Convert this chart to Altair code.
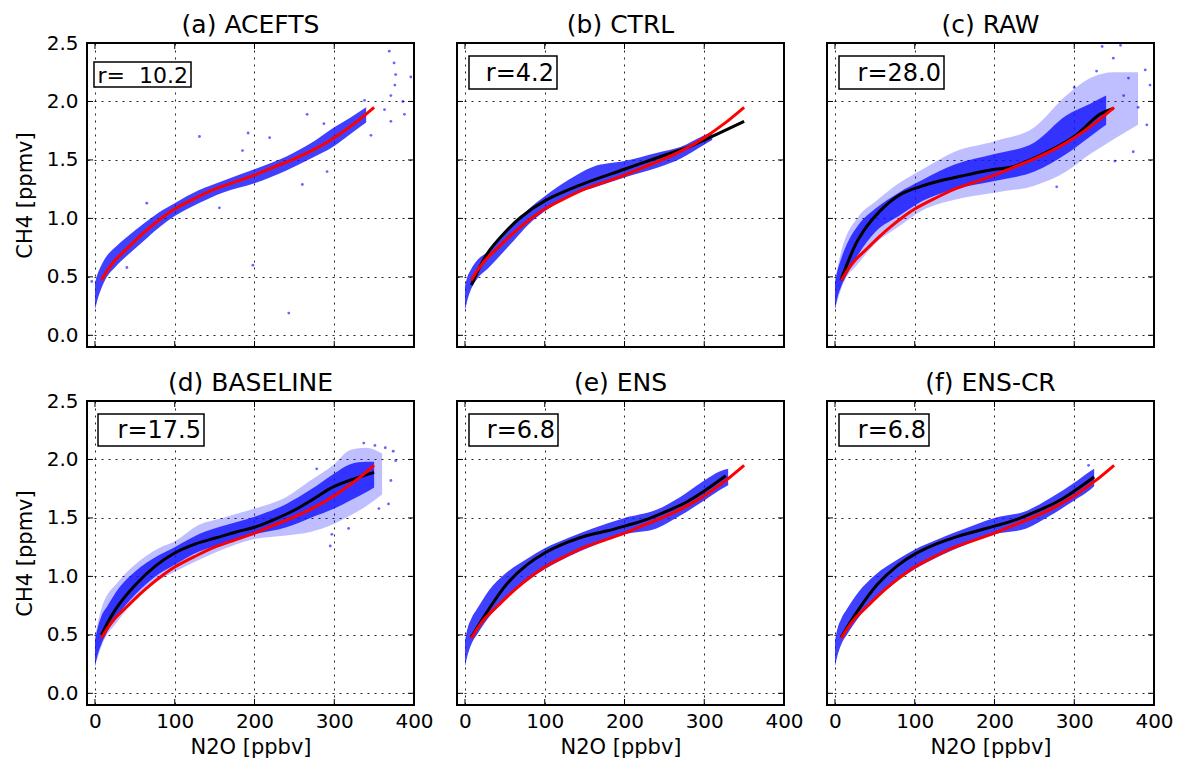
import altair as alt
import pandas as pd

# ---------------- data ----------------
panel_titles = ["(a) ACEFTS", "(b) CTRL", "(c) RAW", "(d) BASELINE", "(e) ENS", "(f) ENS-CR"]
r_labels = ["r=\u00a0\u00a010.2", "r=4.2", "r=28.0", "r=17.5", "r=6.8", "r=6.8"]

x_ticks = [0, 100, 200, 300, 400]
y_ticks = [0.0, 0.5, 1.0, 1.5, 2.0, 2.5]

# red reference curve (same in every panel)
ref_n2o = [8, 15, 25, 40, 55, 70, 85, 100, 125, 150, 175, 200, 225, 250, 275, 300, 325, 350]
ref_ch4 = [0.47, 0.55, 0.64, 0.74, 0.84, 0.93, 1.01, 1.08, 1.17, 1.25, 1.31, 1.37, 1.44, 1.51, 1.59, 1.69, 1.81, 1.95]

# black fitted curves (panel a has none)
fit_b_n2o = [8, 28, 50, 70, 100, 150, 200, 250, 280, 300, 350]
fit_b_ch4 = [0.43, 0.70, 0.88, 1.01, 1.15, 1.30, 1.42, 1.54, 1.61, 1.67, 1.83]
fit_c_n2o = [7.5, 30, 56, 81, 106, 131, 164, 200, 222, 248, 278, 300, 332, 349]
fit_c_ch4 = [0.47, 0.83, 1.06, 1.20, 1.27, 1.32, 1.37, 1.42, 1.44, 1.51, 1.61, 1.70, 1.89, 1.94]
fit_d_n2o = [8, 25, 51, 76, 100, 127, 152, 177, 200, 226, 251, 276, 300, 350]
fit_d_ch4 = [0.50, 0.71, 0.93, 1.09, 1.20, 1.28, 1.33, 1.38, 1.42, 1.49, 1.57, 1.67, 1.77, 1.89]
fit_e_n2o = [8, 28, 53, 78, 100, 128, 153, 179, 200, 229, 254, 279, 300, 327]
fit_e_ch4 = [0.48, 0.70, 0.94, 1.10, 1.20, 1.29, 1.35, 1.39, 1.43, 1.49, 1.56, 1.64, 1.73, 1.86]
fit_f_n2o = [8, 28, 53, 78, 100, 128, 153, 179, 200, 229, 254, 279, 300, 325]
fit_f_ch4 = [0.48, 0.70, 0.93, 1.09, 1.19, 1.28, 1.34, 1.39, 1.43, 1.49, 1.56, 1.64, 1.73, 1.85]

# dense part of the blue scatter cloud (lower / upper edge)
band_a_n2o = [0, 3, 8, 15, 25, 40, 60, 80, 100, 130, 160, 200, 240, 270, 300, 320, 340]
band_a_lo = [0.22, 0.30, 0.40, 0.50, 0.58, 0.68, 0.80, 0.92, 1.02, 1.13, 1.22, 1.30, 1.41, 1.51, 1.62, 1.72, 1.82]
band_a_hi = [0.45, 0.52, 0.60, 0.68, 0.75, 0.84, 0.95, 1.05, 1.13, 1.24, 1.32, 1.42, 1.53, 1.64, 1.78, 1.86, 1.95]

band_b_n2o = [0, 3, 8, 15, 30, 45, 60, 80, 100, 130, 160, 200, 240, 270, 300, 310]
band_b_lo = [0.21, 0.30, 0.40, 0.48, 0.58, 0.69, 0.80, 0.95, 1.06, 1.19, 1.26, 1.35, 1.43, 1.51, 1.63, 1.67]
band_b_hi = [0.42, 0.50, 0.57, 0.64, 0.72, 0.84, 0.94, 1.08, 1.19, 1.33, 1.44, 1.49, 1.56, 1.61, 1.71, 1.74]

band_c_n2o = [0, 3, 8, 15, 30, 50, 80, 110, 150, 200, 250, 290, 320, 340]
band_c_lo = [0.22, 0.32, 0.42, 0.52, 0.70, 0.88, 1.02, 1.15, 1.25, 1.32, 1.40, 1.55, 1.70, 1.80]
band_c_hi = [0.45, 0.55, 0.66, 0.78, 0.95, 1.08, 1.22, 1.33, 1.46, 1.55, 1.65, 1.88, 1.98, 2.05]

band_d_n2o = [0, 3, 8, 15, 30, 50, 80, 100, 130, 160, 200, 240, 270, 300, 320, 340, 350]
band_d_lo = [0.23, 0.32, 0.42, 0.52, 0.68, 0.84, 1.02, 1.10, 1.21, 1.28, 1.36, 1.42, 1.50, 1.58, 1.65, 1.72, 1.76]
band_d_hi = [0.45, 0.55, 0.66, 0.74, 0.90, 1.04, 1.18, 1.25, 1.36, 1.43, 1.51, 1.62, 1.74, 1.88, 1.96, 1.98, 1.98]

band_e_n2o = [0, 3, 8, 15, 30, 50, 80, 100, 130, 160, 200, 240, 270, 300, 320, 330]
band_e_lo = [0.23, 0.32, 0.42, 0.50, 0.65, 0.80, 0.97, 1.06, 1.17, 1.26, 1.36, 1.41, 1.52, 1.65, 1.74, 1.78]
band_e_hi = [0.45, 0.55, 0.64, 0.72, 0.88, 1.02, 1.16, 1.24, 1.33, 1.41, 1.50, 1.57, 1.68, 1.82, 1.90, 1.92]

band_f_n2o = [0, 3, 8, 15, 30, 50, 80, 100, 130, 160, 200, 240, 270, 300, 320, 325]
band_f_lo = [0.23, 0.32, 0.42, 0.50, 0.65, 0.80, 0.97, 1.06, 1.17, 1.26, 1.36, 1.41, 1.52, 1.65, 1.74, 1.77]
band_f_hi = [0.45, 0.55, 0.64, 0.72, 0.87, 1.01, 1.15, 1.23, 1.32, 1.40, 1.50, 1.56, 1.67, 1.80, 1.90, 1.92]

# sparse haze around the dense cloud (panels c and d)
haze_c_n2o = [0, 8, 30, 50, 80, 110, 150, 200, 250, 290, 320, 350, 380]
haze_c_lo = [0.22, 0.40, 0.62, 0.78, 0.93, 1.07, 1.16, 1.22, 1.28, 1.40, 1.55, 1.68, 1.80]
haze_c_hi = [0.48, 0.72, 1.02, 1.14, 1.30, 1.42, 1.57, 1.66, 1.78, 2.05, 2.20, 2.25, 2.25]

haze_d_n2o = [0, 8, 30, 50, 80, 100, 130, 160, 200, 240, 270, 300, 320, 340, 360]
haze_d_lo = [0.23, 0.40, 0.63, 0.80, 0.97, 1.04, 1.14, 1.23, 1.32, 1.35, 1.38, 1.45, 1.52, 1.60, 1.70]
haze_d_hi = [0.48, 0.72, 0.96, 1.10, 1.24, 1.30, 1.44, 1.50, 1.58, 1.68, 1.82, 1.96, 2.08, 2.10, 2.05]

# isolated scatter points
out_a_n2o = [369, 375, 377, 396, 376, 371, 386, 388, 371, 338, 266, 192, 131, 185, 219, 287, 291, 260, 156, 65, 198, 243, 40, -4, 363, 346]
out_a_ch4 = [2.43, 2.33, 2.23, 2.21, 2.14, 2.05, 2.00, 1.89, 1.83, 2.01, 1.89, 1.73, 1.70, 1.58, 1.69, 1.81, 1.40, 1.29, 1.09, 1.13, 0.60, 0.19, 0.58, 0.46, 1.93, 1.71]
out_b_n2o = []
out_b_ch4 = []
out_c_n2o = [335, 349, 358, 389, 395, 391, 374, 351, 278, 328, 362, 380, 300, 368]
out_c_ch4 = [2.47, 2.37, 2.48, 2.27, 2.14, 1.80, 1.57, 1.49, 1.27, 2.26, 2.05, 1.95, 2.12, 2.20]
out_d_n2o = [337, 351, 364, 374, 377, 371, 368, 356, 318, 295, 297, 278]
out_d_ch4 = [2.14, 2.12, 2.10, 2.07, 1.99, 1.82, 1.62, 1.58, 1.41, 1.26, 1.36, 1.92]
out_e_n2o = []
out_e_ch4 = []
out_f_n2o = [318]
out_f_ch4 = [1.95]

fits = [None, (fit_b_n2o, fit_b_ch4), (fit_c_n2o, fit_c_ch4), (fit_d_n2o, fit_d_ch4),
        (fit_e_n2o, fit_e_ch4), (fit_f_n2o, fit_f_ch4)]
bands = [(band_a_n2o, band_a_lo, band_a_hi), (band_b_n2o, band_b_lo, band_b_hi),
         (band_c_n2o, band_c_lo, band_c_hi), (band_d_n2o, band_d_lo, band_d_hi),
         (band_e_n2o, band_e_lo, band_e_hi), (band_f_n2o, band_f_lo, band_f_hi)]
hazes = [None, None, (haze_c_n2o, haze_c_lo, haze_c_hi), (haze_d_n2o, haze_d_lo, haze_d_hi), None, None]
outs = [(out_a_n2o, out_a_ch4), (out_b_n2o, out_b_ch4), (out_c_n2o, out_c_ch4),
        (out_d_n2o, out_d_ch4), (out_e_n2o, out_e_ch4), (out_f_n2o, out_f_ch4)]

# ---------------- layout / style ----------------
W, H = 327, 304
FONT = "DejaVu Sans"
box_left = [7, 12, 12, 11, 12, 12]
box_top = [19, 13, 13, 13, 13, 13]
box_w = [97, 88, 105, 106, 89, 90]
box_h = [25, 33, 33, 32, 32, 32]
r_size = [22, 24, 24, 24, 24, 24]

xscale = alt.Scale(domain=[-10, 400], nice=False, zero=False)
yscale = alt.Scale(domain=[-0.1, 2.5], nice=False, zero=False)

grid_style = dict(grid=True, gridColor="black", gridDash=[2, 5], gridWidth=1, gridOpacity=0.85,
                  ticks=False, domain=False)


def make_axes(i):
    bottom = i >= 3
    left = i % 3 == 0
    xa = alt.Axis(values=x_ticks, format="d", labels=bottom, title="N2O [ppbv]" if bottom else None,
                  labelFontSize=20, titleFontSize=21, labelPadding=6, titlePadding=5,
                  labelFlush=False, labelOverlap=False, labelColor="black", titleColor="black",
                  titleFontWeight="normal", labelFont=FONT, titleFont=FONT, **grid_style)
    ya = alt.Axis(values=y_ticks, format=".1f", labels=left, title="CH4 [ppmv]" if left else None,
                  labelFontSize=20, titleFontSize=21, labelPadding=9, titlePadding=11,
                  labelFlush=False, labelOverlap=False, labelColor="black", titleColor="black",
                  titleFontWeight="normal", labelFont=FONT, titleFont=FONT, **grid_style)
    return xa, ya


def panel(i):
    xa, ya = make_axes(i)
    X = lambda f="n2o": alt.X(f + ":Q", scale=xscale, axis=xa)
    layers = []

    hz = hazes[i]
    if hz is not None:
        dfh = pd.DataFrame({"n2o": hz[0], "lo": hz[1], "hi": hz[2]})
        layers.append(alt.Chart(dfh).mark_area(color="#0000ff", opacity=0.25, interpolate="monotone").encode(
            x=X(), y=alt.Y("lo:Q", scale=yscale, axis=ya), y2="hi:Q"))

    bd = bands[i]
    dfb = pd.DataFrame({"n2o": bd[0], "lo": bd[1], "hi": bd[2]})
    layers.append(alt.Chart(dfb).mark_area(color="#1010ff", opacity=0.8, interpolate="monotone").encode(
        x=X(), y=alt.Y("lo:Q", scale=yscale, axis=ya), y2="hi:Q"))

    od = outs[i]
    if len(od[0]) > 0:
        dfo = pd.DataFrame({"n2o": od[0], "ch4": od[1]})
        layers.append(alt.Chart(dfo).mark_point(filled=True, size=8, color="#0000ff", opacity=0.6).encode(
            x=X(), y=alt.Y("ch4:Q", scale=yscale, axis=ya)))

    ft = fits[i]
    if ft is not None:
        dff = pd.DataFrame({"n2o": ft[0], "ch4": ft[1]})
        layers.append(alt.Chart(dff).mark_line(color="black", strokeWidth=3, interpolate="catmull-rom").encode(
            x=X(), y=alt.Y("ch4:Q", scale=yscale, axis=ya)))

    dfr = pd.DataFrame({"n2o": ref_n2o, "ch4": ref_ch4})
    layers.append(alt.Chart(dfr).mark_line(color="#ff0000", strokeWidth=3, interpolate="catmull-rom").encode(
        x=X(), y=alt.Y("ch4:Q", scale=yscale, axis=ya)))

    # inside tick marks on all four sides
    dxt = pd.DataFrame({"n2o": x_ticks})
    dyt = pd.DataFrame({"ch4": y_ticks})
    layers.append(alt.Chart(dxt).mark_rule(color="black", strokeWidth=1).encode(
        x=X(), y=alt.value(H), y2=alt.value(H - 6)))
    layers.append(alt.Chart(dxt).mark_rule(color="black", strokeWidth=1).encode(
        x=X(), y=alt.value(0), y2=alt.value(6)))
    layers.append(alt.Chart(dyt).mark_rule(color="black", strokeWidth=1).encode(
        y=alt.Y("ch4:Q", scale=yscale, axis=ya), x=alt.value(0), x2=alt.value(6)))
    layers.append(alt.Chart(dyt).mark_rule(color="black", strokeWidth=1).encode(
        y=alt.Y("ch4:Q", scale=yscale, axis=ya), x=alt.value(W), x2=alt.value(W - 6)))

    # r= label box
    dl = pd.DataFrame({"label": [r_labels[i]], "title": [panel_titles[i]]})
    bx, by, bw, bh = box_left[i], box_top[i], box_w[i], box_h[i]
    layers.append(alt.Chart(dl).mark_rect(fill="white", stroke="black", strokeWidth=1.5).encode(
        x=alt.value(bx), x2=alt.value(bx + bw), y=alt.value(by), y2=alt.value(by + bh)))
    layers.append(alt.Chart(dl).mark_text(align="right", baseline="middle", fontSize=r_size[i],
                                          font=FONT, color="black").encode(
        x=alt.value(bx + bw - 3), y=alt.value(by + bh / 2 + 1), text="label:N"))

    # panel title
    layers.append(alt.Chart(dl).mark_text(align="center", baseline="alphabetic", fontSize=25,
                                          font=FONT, color="black").encode(
        x=alt.value(W / 2), y=alt.value(-10), text="title:N"))

    return alt.layer(*layers).properties(width=W, height=H)


chart = alt.concat(*[panel(i) for i in range(6)], columns=3,
                   spacing={"row": 54, "column": 43}, bounds="flush").properties(
    padding={"left": 5, "top": 4, "right": 0, "bottom": 0}
).configure(font=FONT).configure_view(stroke="black", strokeWidth=2)

chart.save("out.html", embed_options={"renderer": "svg", "actions": False})
